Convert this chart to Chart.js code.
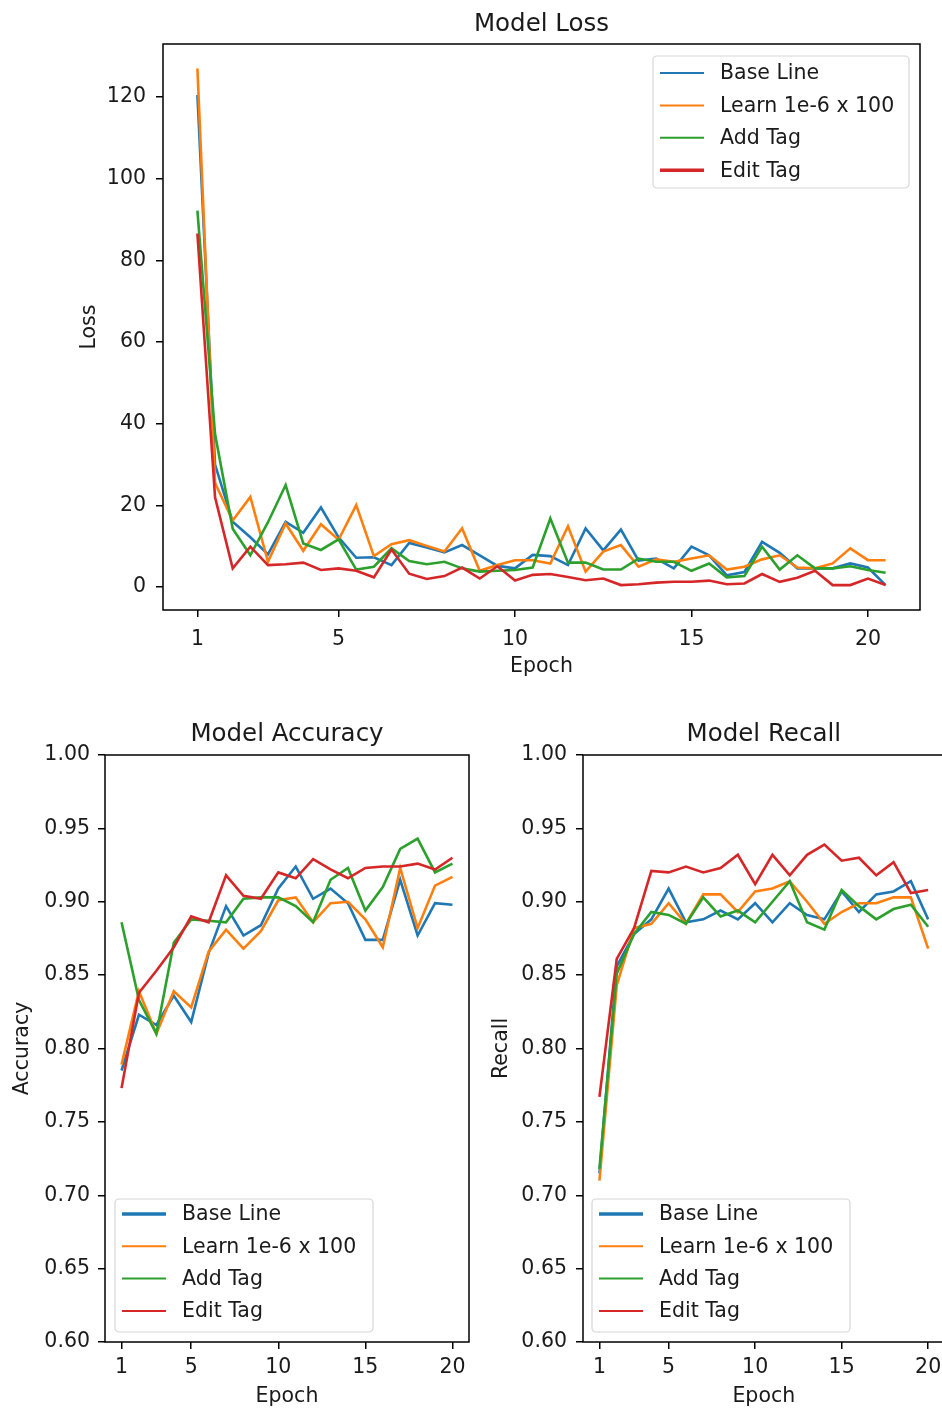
<!DOCTYPE html>
<html>
<head>
<meta charset="utf-8">
<script src="https://cdn.jsdelivr.net/npm/chart.js@4.4.1/dist/chart.umd.min.js"></script>
<style>
  html, body { margin:0; padding:0; width:942px; height:1410px; overflow:hidden; background:#fff; }
  canvas { position:absolute; display:block; }
</style>
</head>
<body>
<canvas id="loss" width="942" height="690" style="left:0;top:0;width:942px;height:690px"></canvas>
<canvas id="acc" width="480" height="720" style="left:0;top:690px;width:480px;height:720px"></canvas>
<canvas id="rec" width="480" height="720" style="left:480px;top:690px;width:480px;height:720px"></canvas>
<script>
// ---------- DATA ----------
const seriesNames = ['Base Line', 'Learn 1e-6 x 100', 'Add Tag', 'Edit Tag'];
const seriesColors = ['#1f77b4', '#ff7f0e', '#2ca02c', '#d62728'];

const lossEpochs = [1, 1.5, 2, 2.5, 3, 3.5, 4, 4.5, 5, 5.5, 6, 6.5, 7, 7.5, 8, 8.5, 9, 9.5, 10, 10.5,
                    11, 11.5, 12, 12.5, 13, 13.5, 14, 14.5, 15, 15.5, 16, 16.5, 17, 17.5, 18, 18.5, 19, 19.5, 20, 20.5];
const lossBase  = [120.5, 30, 16, 12.2, 8, 16, 13.3, 19.5, 12.2, 7.2, 7.3, 5.4, 10.8, 9.7, 8.5, 10.3, 7.8, 5.2, 4.6, 7.9,
                   7.6, 5.4, 14.4, 9.0, 14.1, 6.5, 7.0, 4.6, 9.9, 7.8, 2.9, 3.7, 11.1, 8.4, 4.6, 4.6, 4.6, 5.8, 4.8, 0.5];
const lossLearn = [127, 25.5, 16.3, 22.1, 6.2, 15.6, 8.9, 15.4, 11.6, 20.1, 7.6, 10.5, 11.5, 10.1, 8.7, 14.4, 4.0, 5.4, 6.6, 6.6,
                   5.8, 14.9, 3.8, 8.7, 10.3, 5.0, 6.8, 6.2, 7.0, 7.8, 4.3, 5.0, 6.8, 7.8, 4.8, 4.6, 5.8, 9.5, 6.6, 6.6];
const lossAdd   = [92.2, 37.5, 14.3, 7.8, 15.9, 25.0, 10.7, 9.1, 11.7, 4.3, 5.0, 9.5, 6.4, 5.6, 6.2, 4.6, 3.8, 4.0, 4.2, 4.8,
                   16.8, 6.0, 6.0, 4.3, 4.3, 7.0, 6.2, 6.2, 4.0, 5.8, 2.4, 2.7, 9.9, 4.3, 7.8, 4.6, 4.6, 5.1, 4.2, 3.5];
const lossEdit  = [86.6, 22, 4.6, 9.9, 5.4, 5.6, 6.0, 4.2, 4.6, 4.0, 2.4, 9.2, 3.3, 2.0, 2.7, 4.8, 2.1, 5.1, 1.6, 3.0,
                   3.2, 2.5, 1.7, 2.1, 0.5, 0.7, 1.1, 1.3, 1.3, 1.6, 0.7, 0.9, 3.2, 1.3, 2.3, 4.0, 0.5, 0.5, 2.1, 0.5];

const epochs = [1, 2, 3, 4, 5, 6, 7, 8, 9, 10, 11, 12, 13, 14, 15, 16, 17, 18, 19, 20];
const accBase  = [0.785, 0.823, 0.816, 0.836, 0.818, 0.865, 0.897, 0.877, 0.884, 0.909, 0.924, 0.902, 0.909, 0.899, 0.874, 0.874, 0.915, 0.877, 0.899, 0.898];
const accLearn = [0.789, 0.839, 0.810, 0.839, 0.828, 0.866, 0.881, 0.868, 0.880, 0.901, 0.903, 0.886, 0.899, 0.900, 0.888, 0.869, 0.923, 0.882, 0.911, 0.917];
const accAdd   = [0.886, 0.833, 0.810, 0.872, 0.888, 0.887, 0.886, 0.902, 0.903, 0.903, 0.897, 0.886, 0.915, 0.923, 0.894, 0.910, 0.936, 0.943, 0.920, 0.926];
const accEdit  = [0.773, 0.838, 0.853, 0.869, 0.890, 0.886, 0.918, 0.904, 0.902, 0.920, 0.916, 0.929, 0.922, 0.916, 0.923, 0.924, 0.924, 0.926, 0.922, 0.930];

const recBase  = [0.715, 0.856, 0.878, 0.888, 0.909, 0.886, 0.888, 0.894, 0.888, 0.899, 0.886, 0.899, 0.891, 0.888, 0.907, 0.893, 0.905, 0.907, 0.914, 0.888];
const recLearn = [0.710, 0.843, 0.882, 0.885, 0.899, 0.885, 0.905, 0.905, 0.893, 0.907, 0.909, 0.914, 0.900, 0.885, 0.893, 0.899, 0.899, 0.903, 0.903, 0.868];
const recAdd   = [0.718, 0.851, 0.878, 0.893, 0.891, 0.885, 0.903, 0.890, 0.894, 0.886, 0.900, 0.914, 0.886, 0.881, 0.908, 0.897, 0.888, 0.895, 0.898, 0.883];
const recEdit  = [0.767, 0.861, 0.882, 0.921, 0.920, 0.924, 0.920, 0.923, 0.932, 0.912, 0.932, 0.918, 0.932, 0.939, 0.928, 0.930, 0.918, 0.927, 0.906, 0.908];

const epochTicks = [1, 5, 10, 15, 20];
const lossTicks = [0, 20, 40, 60, 80, 100, 120];
const rateTicks = [0.60, 0.65, 0.70, 0.75, 0.80, 0.85, 0.90, 0.95, 1.00];

// ---------- STYLE ----------
const FONT = "'DejaVu Sans', sans-serif";
const TXT = '#1a1a1a';
const TICK_SIZE = 20.5;
const TITLE_SIZE = 24.5;

const decor = {
  id: 'decor',
  afterDraw(chart, args, o) {
    const ctx = chart.ctx, a = chart.chartArea;
    ctx.save();
    // spines
    ctx.strokeStyle = '#000';
    ctx.lineWidth = 1.5;
    ctx.strokeRect(a.left, a.top, a.right - a.left, a.bottom - a.top);
    // title
    ctx.fillStyle = TXT;
    ctx.font = TITLE_SIZE + 'px ' + FONT;
    ctx.textAlign = 'center';
    ctx.textBaseline = 'alphabetic';
    ctx.fillText(o.title, (a.left + a.right) / 2, a.top - o.titleGap);
    // legend (inside axes, matplotlib style)
    const L = o.legend;
    let x, y;
    if (L.loc === 'upper right') { x = a.right - L.dx - L.w; y = a.top + L.dy; }
    else { x = a.left + L.dx; y = a.bottom - L.dy - L.h; }
    const r = 4;
    ctx.beginPath();
    ctx.moveTo(x + r, y);
    ctx.lineTo(x + L.w - r, y); ctx.arcTo(x + L.w, y, x + L.w, y + r, r);
    ctx.lineTo(x + L.w, y + L.h - r); ctx.arcTo(x + L.w, y + L.h, x + L.w - r, y + L.h, r);
    ctx.lineTo(x + r, y + L.h); ctx.arcTo(x, y + L.h, x, y + L.h - r, r);
    ctx.lineTo(x, y + r); ctx.arcTo(x, y, x + r, y, r);
    ctx.closePath();
    ctx.fillStyle = 'rgba(255,255,255,0.85)';
    ctx.fill();
    ctx.strokeStyle = '#d6d6d6';
    ctx.lineWidth = 1.2;
    ctx.stroke();
    ctx.font = TICK_SIZE + 'px ' + FONT;
    ctx.textAlign = 'left';
    ctx.textBaseline = 'middle';
    chart.data.datasets.forEach((ds, i) => {
      const cy = y + L.first + i * L.gap;
      ctx.strokeStyle = ds.borderColor;
      ctx.lineWidth = (L.thick === i) ? 3.5 : 2;
      ctx.beginPath();
      ctx.moveTo(x + 7, cy);
      ctx.lineTo(x + 51, cy);
      ctx.stroke();
      ctx.fillStyle = TXT;
      ctx.fillText(ds.label, x + 67, cy + 1);
    });
    ctx.restore();
  }
};

function buildDatasets(xs, lists) {
  return lists.map((vals, i) => ({
    label: seriesNames[i],
    data: xs.map((x, k) => ({ x: x, y: vals[k] })),
    borderColor: seriesColors[i],
    backgroundColor: seriesColors[i],
    borderWidth: 2.6,
    pointRadius: 0,
    tension: 0,
    fill: false,
    order: lists.length - i
  }));
}

function axisCommon() {
  return {
    grid: { drawOnChartArea: false, drawTicks: true, tickLength: 7, color: '#000', lineWidth: 1.5 },
    border: { display: false }
  };
}

function makeChart(id, p) {
  const ctx = document.getElementById(id).getContext('2d');
  return new Chart(ctx, {
    type: 'line',
    data: { datasets: buildDatasets(p.xs, p.series) },
    plugins: [decor],
    options: {
      responsive: false,
      animation: false,
      devicePixelRatio: 1,
      parsing: true,
      layout: { padding: { left: 0, top: p.padTop, right: p.padRight, bottom: 0 } },
      plugins: {
        legend: { display: false },
        tooltip: { enabled: false },
        title: { display: false },
        decor: { title: p.title, titleGap: p.titleGap, legend: p.legend }
      },
      scales: {
        x: Object.assign(axisCommon(), {
          type: 'linear',
          min: p.xMin, max: p.xMax,
          afterBuildTicks: s => { s.ticks = epochTicks.map(v => ({ value: v })); },
          afterFit: s => { s.height = p.xAxisH; },
          ticks: { autoSkip: false, maxRotation: 0, minRotation: 0, padding: p.xTickPad,
                   font: { family: FONT, size: TICK_SIZE }, color: TXT, callback: v => String(v) },
          title: { display: true, text: 'Epoch', color: TXT, font: { family: FONT, size: TICK_SIZE },
                   padding: { top: 0, bottom: p.xTitlePad } }
        }),
        y: Object.assign(axisCommon(), {
          type: 'linear',
          min: p.yMin, max: p.yMax,
          afterBuildTicks: s => { s.ticks = p.yTicks.map(v => ({ value: v })); },
          afterFit: s => { s.width = p.yAxisW; },
          ticks: { autoSkip: false, padding: p.yTickPad,
                   font: { family: FONT, size: TICK_SIZE }, color: TXT, callback: p.yFmt },
          title: { display: true, text: p.yLabel, color: TXT, font: { family: FONT, size: TICK_SIZE },
                   padding: { top: p.yTitlePad, bottom: 0 } }
        })
      }
    }
  });
}

makeChart('loss', {
  xs: lossEpochs, series: [lossBase, lossLearn, lossAdd, lossEdit],
  title: 'Model Loss', titleGap: 13, yLabel: 'Loss',
  padTop: 44, padRight: 22, yAxisW: 163, xAxisH: 80,
  xMin: 0.025, xMax: 21.475, yMin: -5.6, yMax: 133.0,
  yTicks: lossTicks, yFmt: v => String(v),
  xTickPad: 10, yTickPad: 10, yTitlePad: 77, xTitlePad: 11,
  legend: { loc: 'upper right', dx: 11, dy: 12, w: 256, h: 132, first: 17, gap: 32.4, thick: 3 }
});

makeChart('acc', {
  xs: epochs, series: [accBase, accLearn, accAdd, accEdit],
  title: 'Model Accuracy', titleGap: 14, yLabel: 'Accuracy',
  padTop: 65, padRight: 11, yAxisW: 105, xAxisH: 68,
  xMin: 0.05, xMax: 20.95, yMin: 0.6, yMax: 1.0,
  yTicks: rateTicks, yFmt: v => v.toFixed(2),
  xTickPad: 6, yTickPad: 8, yTitlePad: 10, xTitlePad: 1,
  legend: { loc: 'lower left', dx: 10, dy: 10, w: 258, h: 133, first: 15, gap: 32.3, thick: 0 }
});

makeChart('rec', {
  xs: epochs, series: [recBase, recLearn, recAdd, recEdit],
  title: 'Model Recall', titleGap: 14, yLabel: 'Recall',
  padTop: 65, padRight: 15.4, yAxisW: 103, xAxisH: 68,
  xMin: 0.05, xMax: 20.95, yMin: 0.6, yMax: 1.0,
  yTicks: rateTicks, yFmt: v => v.toFixed(2),
  xTickPad: 6, yTickPad: 9, yTitlePad: 9, xTitlePad: 1,
  legend: { loc: 'lower left', dx: 9, dy: 10, w: 258, h: 133, first: 15, gap: 32.3, thick: 0 }
});
</script>
</body>
</html>
